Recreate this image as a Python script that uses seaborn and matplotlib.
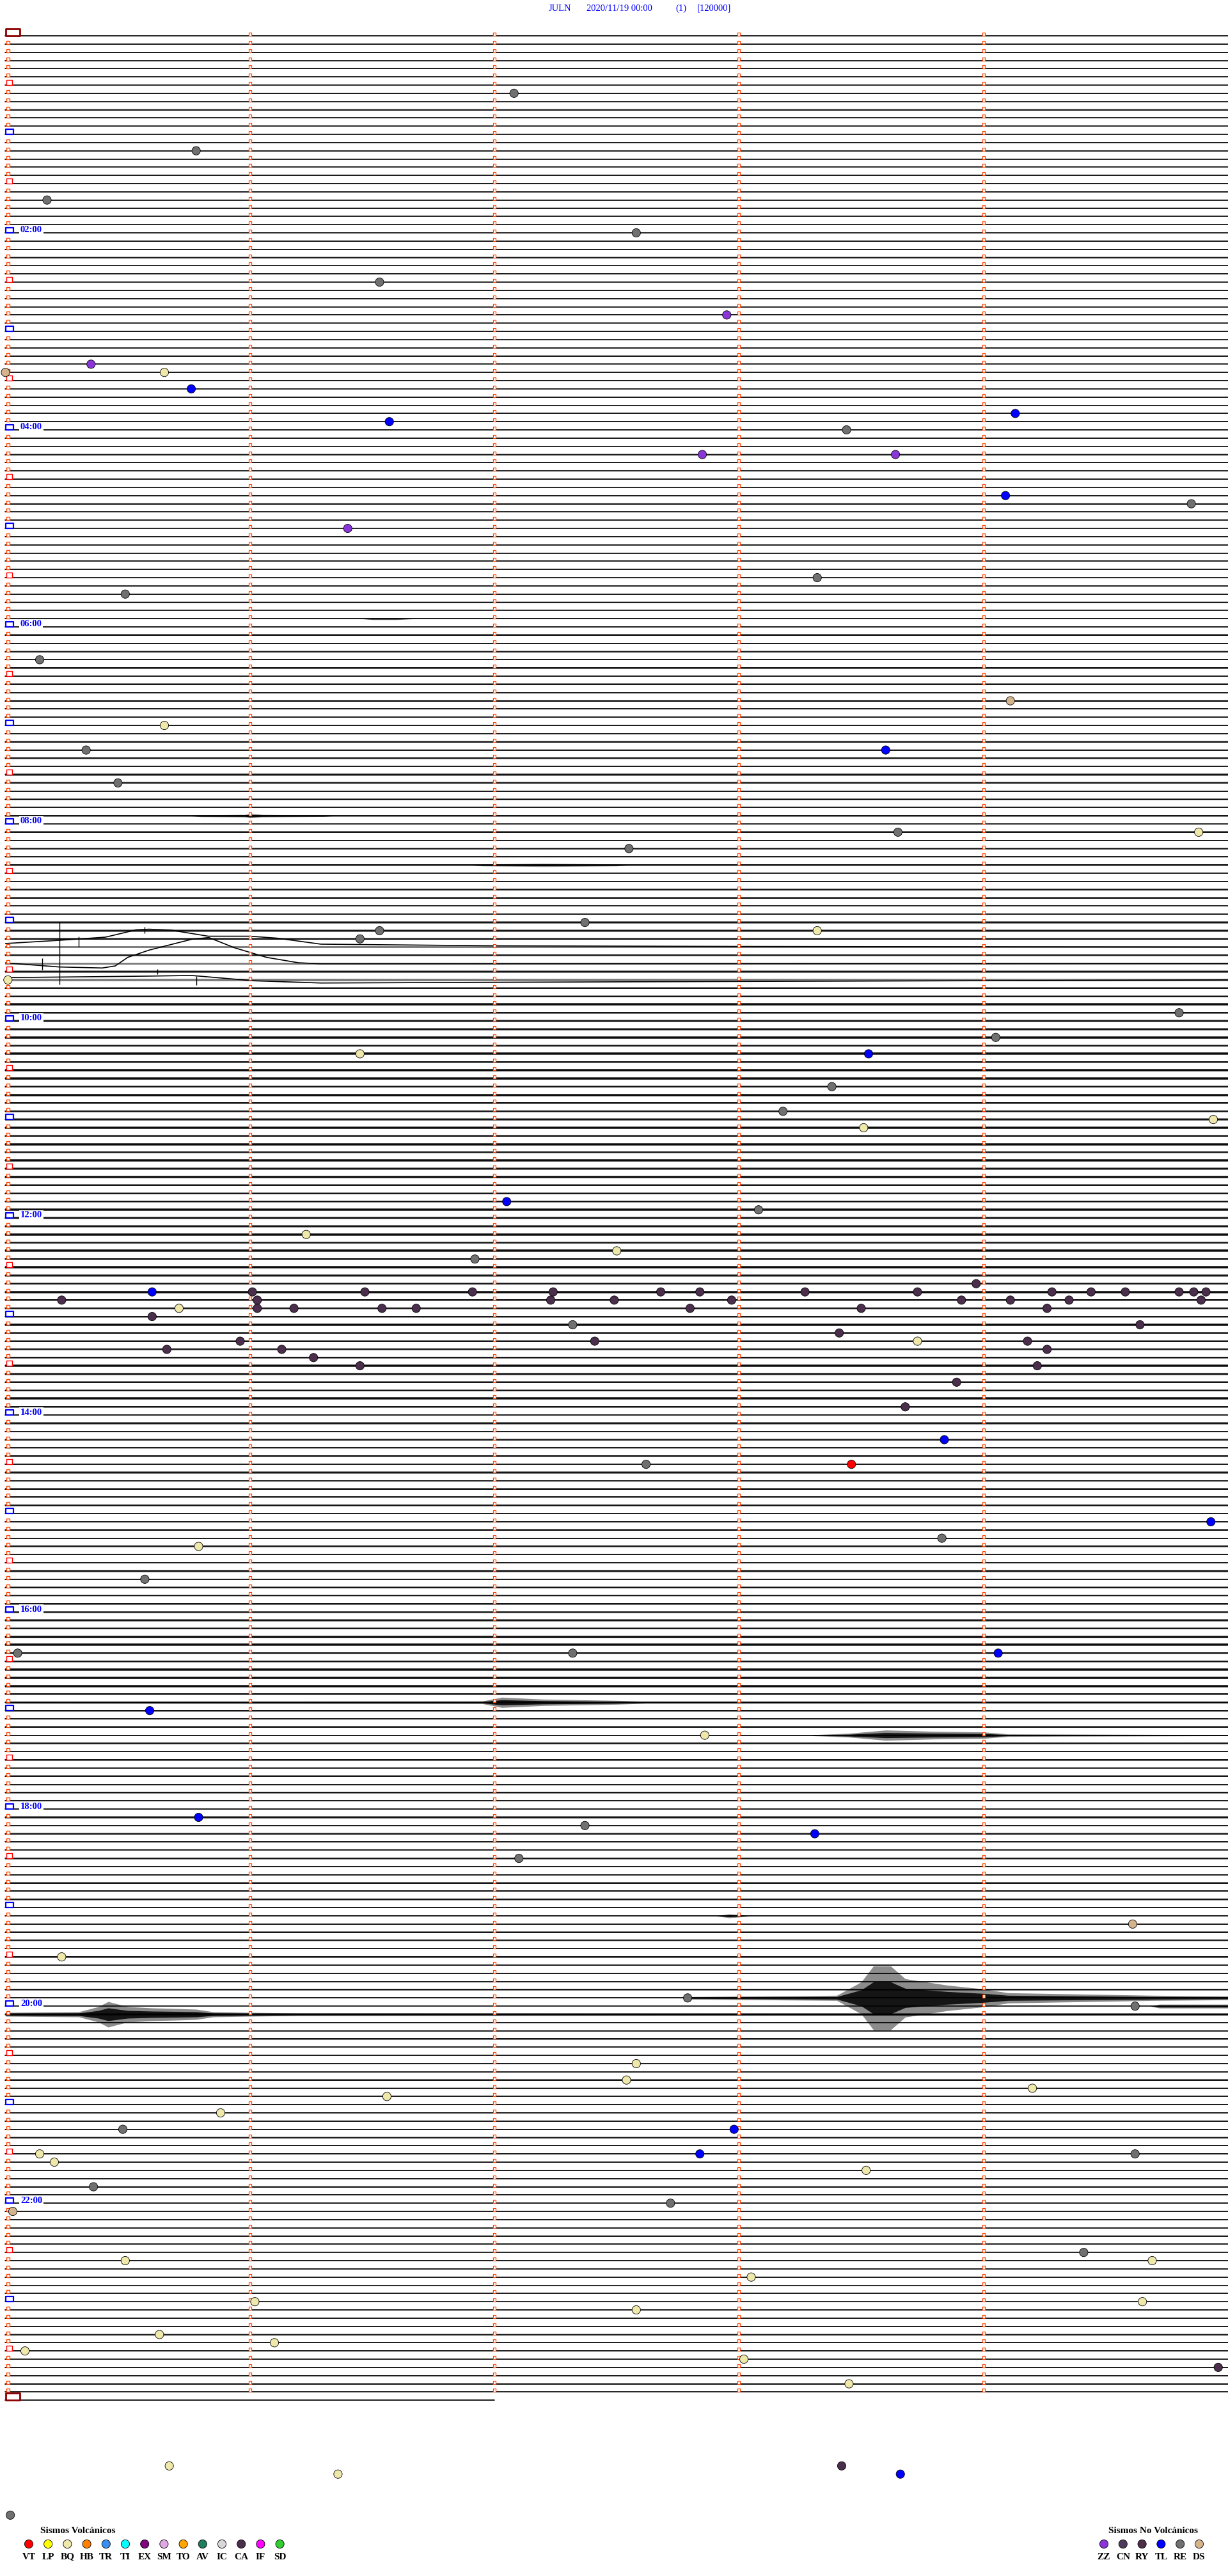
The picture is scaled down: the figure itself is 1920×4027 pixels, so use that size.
import numpy as np
import pandas as pd
import matplotlib
matplotlib.use('Agg')
import matplotlib.pyplot as plt
import seaborn as sns
from matplotlib.patches import Rectangle
from matplotlib.collections import PatchCollection

sns.set_theme(style='white')
plt.rcParams['font.family'] = ['Liberation Serif', 'DejaVu Serif']

# --- page geometry (pixels) ---
W, H = 1920, 4027
ROW0, ROW_PX = 56.0, 12.834     # first trace, spacing between traces
X0, MIN_PX = 8.5, 382.3         # minute 0 on the trace, pixels per minute


def mx(px):
    return (px - X0) / MIN_PX


def ry(px):
    return (px - ROW0) / ROW_PX


# --- data ---
title_parts = ['JULN', '2020/11/19 00:00', '(1)', '[120000]']
title_x = [858, 917, 1056, 1090]

n_rows = 289          # 5-minute traces, 00:00 .. 24:00
row_len = 5.0
last_row_end = 2.0    # data stops at 24:02

hour_labels = ['02:00', '04:00', '06:00', '08:00', '10:00', '12:00',
               '14:00', '16:00', '18:00', '20:00', '22:00']

# background noise level of each trace, one string per hour (12 traces)
noise_by_hour = [
    '011010010100', '011001110100', '011101011010', '101101101011',
    '110110101101', '011011011101', '121112121211', '112121221212',
    '021112012201', '222222222232', '223232332322', '232323232223',
    '223232322322', '232222322232', '121212121212', '112121121212',
    '222332233322', '212121212121', '121211211212', '111211211121',
    '021121111211', '111111111111', '111111011101', '011111101110',
    '1',
]

# wave packets: trace, minutes along trace, half amplitude (px)
bursts = [
    (71, [1.45, 1.5, 1.6, 1.68], [0, 1.5, 1.5, 0]),
    (95, [0.75, 0.8, 0.98, 1.0, 1.05, 1.3, 1.35], [0, 1.5, 2, 3.5, 2, 1.2, 0]),
    (101, [1.9, 1.95, 2.2, 2.5, 2.55], [0, 1.5, 2.5, 1.5, 0]),
    (203, [0.0, 1.95, 2.03, 2.2, 2.5, 2.62, 5.0], [1.5, 2, 8, 5, 3, 1.5, 1.2]),
    (207, [3.3, 3.45, 3.6, 3.8, 4.0, 4.1, 5.0], [0.8, 3, 8, 6, 5, 2, 0.8]),
    (229, [2.9, 2.96, 3.0, 3.05], [0, 3, 2, 0]),
    (239, [2.79, 3.4, 3.5, 3.55, 3.62, 3.68, 3.85, 4.0, 4.1, 4.4, 4.7, 5.0],
     [2, 4, 25, 50, 50, 30, 20, 14, 8, 6, 4, 3]),
    (240, [4.68, 4.72, 5.0], [0, 3, 3]),
    (241, [0.0, 0.3, 0.38, 0.42, 0.5, 0.6, 0.7, 0.78, 0.85, 1.0, 1.2, 5.0],
     [3, 4, 12, 20, 12, 10, 9, 8, 4, 3, 2, 1.2]),
]

# long period drift of some traces around 09:15: minutes, offset (px)
drift = {
    111: ([0.0, 0.22, 0.41, 0.535, 0.587, 0.676, 0.83, 1.0, 1.11, 1.29, 2.0, 3.0, 5.0],
          [-5.6, -10.6, -15.6, -27, -28, -26.6, -17, -17, -14, -4.6, -2, -1, 0]),
    113: ([0.0, 0.22, 0.396, 0.449, 0.5, 0.588, 0.763, 0.832, 0.937, 1.068, 1.198, 1.286, 5.0],
          [-1, 5.4, 7, 3.8, -9.6, -21, -38, -40.6, -24.6, -9.6, -1.2, 0.4, 0]),
    115: ([0.0, 0.59, 0.76, 1.02, 1.29, 2.5, 5.0],
          [-3.6, -6, -7, 1.4, 4.8, 3, 0]),
}

# spikes: trace, minute, up (px), down (px)
spikes = [(111, 0.22, 40, 58), (113, 0.15, 8, 10), (110, 0.30, 4, 12),
          (109, 0.57, 6, 4), (115, 0.78, 6, 8), (114, 0.62, 4, 4)]

# events: minutes after 00:00, class
event_min = [
    37.08, 70.78, 100.17, 122.58, 151.53, 172.95, 200.35, 205.65, 205.00,
    215.76, 234.13, 236.57, 243.44, 257.85, 258.64, 284.09, 289.85, 301.40,
    333.32, 340.49, 380.14, 409.11, 420.65, 435.33, 438.60, 455.46, 488.65,
    489.88, 497.55, 542.37, 546.53, 551.45, 548.32, 575.01, 599.80, 614.05,
    621.45, 623.53, 643.38, 658.18, 668.51, 664.94, 712.05, 718.08, 731.23,
    742.50, 746.92, 763.97, 765.60,
    766.01, 766.47, 766.91, 767.24, 767.68, 767.84, 768.27, 768.73, 769.28,
    769.44, 769.58, 769.80, 769.86, 769.91,
    770.23, 771.03, 772.23, 772.49, 772.97, 773.91, 774.11, 774.35, 774.89,
    775.71, 776.03, 776.18, 776.54, 776.68, 777.80, 778.50, 779.26,
    780.60, 787.32, 789.64, 793.41, 795.96, 797.41, 798.73, 799.18,
    800.66, 801.13, 804.26, 806.26, 811.45, 814.22, 823.89, 838.68,
    858.84, 872.62, 873.46, 909.93, 918.83, 920.79, 940.57, 985.05, 987.32,
    989.06, 1020.59, 1037.86, 1085.79, 1092.37, 1098.31, 1112.10, 1154.61,
    1170.23, 1197.79, 1204.62, 1237.58, 1247.54, 1254.20, 1256.56, 1265.88,
    1275.48, 1277.98, 1290.14, 1292.84, 1294.62, 1295.20, 1303.52, 1310.36,
    1322.72, 1325.03, 1354.41, 1355.49, 1359.69, 1368.05, 1381.02, 1384.65,
    1387.58, 1400.63, 1406.10, 1410.08, 1418.02, 1424.96, 1433.45,
    1480.67, 1483.42, 1486.36, 1488.66, 1510.02,
]
event_type = (
    ['RE', 'RE', 'RE', 'RE', 'RE', 'ZZ', 'ZZ', 'BQ', 'DS',
     'TL', 'TL', 'TL', 'RE', 'ZZ', 'ZZ', 'TL', 'RE', 'ZZ',
     'RE', 'RE', 'RE', 'DS', 'BQ', 'RE', 'TL', 'RE', 'RE',
     'BQ', 'RE', 'RE', 'RE', 'RE', 'BQ', 'BQ', 'RE', 'RE',
     'BQ', 'TL', 'RE', 'RE', 'BQ', 'BQ', 'TL', 'RE', 'BQ',
     'BQ', 'RE', 'CA', 'TL']
    + ['CA'] * 14
    + ['CA'] * 9
    + ['BQ'] + ['CA'] * 7
    + ['CA', 'RE', 'CA', 'CA', 'CA', 'CA', 'BQ', 'CA']
    + ['CA'] * 8
    + ['TL', 'RE', 'VT', 'TL', 'RE', 'BQ', 'RE', 'RE', 'RE',
       'TL', 'TL', 'BQ', 'TL', 'RE', 'TL', 'RE', 'DS',
       'BQ', 'RE', 'RE', 'BQ', 'BQ', 'BQ', 'BQ', 'BQ',
       'RE', 'TL', 'BQ', 'TL', 'RE', 'BQ', 'BQ', 'RE',
       'RE', 'DS', 'RE', 'BQ', 'BQ', 'BQ', 'BQ', 'BQ',
       'BQ', 'BQ', 'BQ', 'BQ', 'BQ', 'CA', 'BQ',
       'BQ', 'CA', 'BQ', 'TL', 'RE']
)

volc_types = ['VT', 'LP', 'BQ', 'HB', 'TR', 'TI', 'EX', 'SM', 'TO', 'AV',
              'IC', 'CA', 'IF', 'SD']
nonvolc_types = ['ZZ', 'CN', 'RY', 'TL', 'RE', 'DS']
type_colors = {
    'VT': '#FF0000', 'LP': '#FFFF00', 'BQ': '#EEE8AA', 'HB': '#FF7F00',
    'TR': '#3A8EF0', 'TI': '#00FFFF', 'EX': '#800080', 'SM': '#E0A8E0',
    'TO': '#FFA500', 'AV': '#1E7F60', 'IC': '#D8D8D8', 'CA': '#4A2E4C',
    'IF': '#FF00FF', 'SD': '#33CC33', 'ZZ': '#8A35D8', 'CN': '#4E3A5C',
    'RY': '#4F2E4C', 'TL': '#0000FF', 'RE': '#707070', 'DS': '#D4B48C',
}

# --- figure ---
fig = plt.figure(figsize=(W / 100, H / 100), dpi=100)
ax = fig.add_axes([0, 0, 1, 1])

# traces
recs = []
for r in range(n_rows):
    end = last_row_end if r == n_rows - 1 else row_len
    if r in drift:
        ts, offs = drift[r]
        for t, o in zip(ts, offs):
            recs.append((r, t, r + o / ROW_PX))
    else:
        recs.append((r, 0.0, r))
        recs.append((r, end, r))
traces = pd.DataFrame(recs, columns=['row', 't', 'y'])
sns.lineplot(data=traces, x='t', y='y', units='row', estimator=None, sort=False,
             color='black', linewidth=1.2, legend=False, ax=ax)

# background noise
levels = [int(c) for s in noise_by_hour for c in s]
half = {1: (1.1, 0.3), 2: (1.6, 0.5), 3: (2.0, 0.7), 4: (2.8, 0.9)}
for r, lv in enumerate(levels[:n_rows]):
    if lv == 0:
        continue
    end = last_row_end if r == n_rows - 1 else row_len
    h, a = half[lv]
    ax.fill_between([0, end], r - h / ROW_PX, r + h / ROW_PX,
                    color='black', alpha=a, lw=0)

# wave packets: faint outer envelope, dark core
for r, ts, amps in bursts:
    amps = np.array(amps) / ROW_PX
    ax.fill_between(ts, r - amps, r + amps, color='black', alpha=0.45, lw=0)
    ax.fill_between(ts, r - 0.5 * amps, r + 0.5 * amps, color='black',
                    alpha=0.85, lw=0)

for r, t, up, dn in spikes:
    ax.vlines(t, r - up / ROW_PX, r + dn / ROW_PX, color='black', lw=1.0)

# markers: start of trace and each minute
rects = []
edge = []
lws = []
for r in range(n_rows):
    if r % 288 == 0:
        x1, x2, h, c, lw = 9, 31, 11, '#8B0000', 2.0
    elif r % 12 == 0:
        x1, x2, h, c, lw = 9, 21, 8, '#0000FF', 1.6
    elif r % 6 == 0:
        x1, x2, h, c, lw = 10, 19, 8, '#FF0000', 1.0
    else:
        x1, x2, h, c, lw = 10.5, 15.5, 5, '#FF4500', 1.0
    rects.append(Rectangle((mx(x1), r - h / ROW_PX), (x2 - x1) / MIN_PX, h / ROW_PX))
    edge.append(c)
    lws.append(lw)
    if r < n_rows - 1:
        for m in range(1, 5):
            rects.append(Rectangle((m - 2 / MIN_PX, r - 5 / ROW_PX), 4 / MIN_PX, 5 / ROW_PX))
            edge.append('#FF4500')
            lws.append(0.9)
ax.add_collection(PatchCollection(rects, facecolor='white', edgecolor=edge,
                                  linewidths=lws, zorder=3))

# hour labels
for k, lab in enumerate(hour_labels):
    r = 24 * (k + 1)
    ax.text(mx(32), r - 0.6 / ROW_PX, lab, color='#0000FF', fontsize=10.5,
            fontweight='bold', ha='left', va='baseline', zorder=4,
            bbox=dict(facecolor='white', edgecolor='none', pad=1.2))

# events
ev = pd.DataFrame({'t': event_min, 'type': event_type})
ev['row'] = (ev['t'] // row_len).astype(int)
ev['x'] = ev['t'] - ev['row'] * row_len
sns.scatterplot(data=ev, x='x', y='row', hue='type', palette=type_colors,
                s=90, edgecolor='black', linewidth=0.6, legend=False,
                zorder=5, ax=ax)

# title
for txt, x in zip(title_parts, title_x):
    ax.text(mx(x), ry(13), txt, color='#0000FF', fontsize=10.5,
            ha='left', va='center')

# legends
leg_font = dict(fontsize=11, fontweight='bold', color='black')
ax.text(mx(63), ry(3957), 'Sismos Volcánicos', ha='left', va='center', **leg_font)
ax.text(mx(1733), ry(3957), 'Sismos No Volcánicos', ha='left', va='center', **leg_font)
leg = pd.DataFrame({
    'type': volc_types + nonvolc_types,
    'px': [45 + 30.2 * i for i in range(len(volc_types))]
          + [1726 + 29.8 * i for i in range(len(nonvolc_types))],
})
leg['x'] = mx(leg['px'])
leg['y'] = ry(3977)
sns.scatterplot(data=leg, x='x', y='y', hue='type', palette=type_colors,
                s=90, edgecolor='black', linewidth=0.6, legend=False,
                zorder=5, ax=ax)
for _, row in leg.iterrows():
    ax.text(row['x'], ry(3997), row['type'], ha='center', va='center', **leg_font)

ax.set_xlim(mx(0), mx(W))
ax.set_ylim(ry(H), ry(0))
ax.axis('off')
fig.savefig('out.png', dpi=100, facecolor='white')
